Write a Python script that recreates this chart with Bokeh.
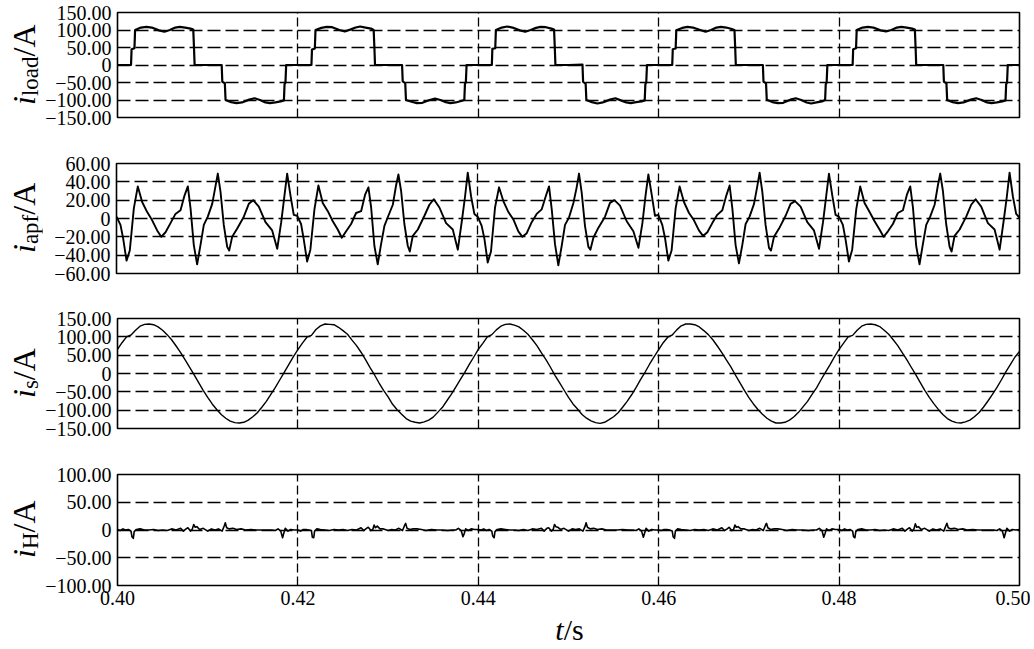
import numpy as np
from bokeh.plotting import figure
from bokeh.layouts import column, row
from bokeh.models import FixedTicker, CustomJSTickFormatter, Range1d, Div
from bokeh.embed import file_html
from bokeh.resources import INLINE

FONT = "Liberation Serif"

# ---------------- data ----------------
PERIOD_STARTS = [0.40, 0.42, 0.44, 0.46, 0.48]
T_END = 0.50
X_TICKS = [0.40, 0.42, 0.44, 0.46, 0.48, 0.50]

# load current: breakpoints inside each 20 ms period (ms) and values (A)
ILOAD_PHASE_MS = [0.0, 1.50, 1.56, 1.88, 1.95, 2.6, 3.2, 3.8, 4.6, 5.2, 5.8, 6.4, 6.9, 7.5, 8.1,
                  8.40, 8.48, 8.55, 10.0, 11.55, 11.62, 11.90, 11.98, 12.6, 13.2, 13.8, 14.6, 15.2,
                  15.8, 16.4, 16.9, 17.5, 18.1, 18.45, 18.52, 18.62, 18.70, 20.0]
ILOAD_P0 = [0, 0, 45, 48, 100, 107, 109, 107, 99, 95, 100, 107, 109, 107, 104, 101, 50, 0, 0, 0,
            -48, -52, -100, -106, -109, -107, -99, -95, -100, -107, -109, -107, -104, -101, -55, -50, 0, 0]
ILOAD_P1 = [0, 0, 44, 47, 100, 106, 109, 108, 100, 96, 101, 107, 110, 107, 104, 100, 50, 0, 0, 0,
            -47, -52, -100, -105, -109, -108, -100, -96, -100, -106, -109, -107, -103, -100, -54, -50, 0, 0]
ILOAD_P2 = [0, 0, 46, 48, 100, 107, 110, 107, 99, 95, 100, 106, 109, 108, 104, 101, 50, 0, 0, 1,
            -48, -53, -100, -106, -110, -107, -99, -95, -101, -107, -109, -106, -104, -101, -55, -50, 0, 0]
ILOAD_P3 = [0, 0, 45, 47, 99, 106, 109, 107, 100, 95, 100, 107, 109, 107, 103, 100, 50, 0, 0, 0,
            -48, -52, -99, -106, -109, -108, -99, -95, -100, -107, -110, -107, -104, -100, -55, -50, 0, 0]
ILOAD_P4 = [0, 0, 45, 48, 100, 107, 109, 107, 99, 96, 100, 107, 109, 107, 104, 101, 50, 0, 0, 0,
            -48, -52, -100, -106, -109, -107, -99, -95, -100, -107, -109, -107, -104, -101, -55, -50, 0, 0]
ILOAD_END = 0

# APF current
IAPF_PHASE_MS = [0.00, 0.44, 0.74, 1.11, 1.47, 1.92, 2.36, 2.84, 3.40, 3.95, 4.50, 4.95, 5.43, 5.98, 6.53,
                 7.09, 7.53, 7.90, 8.20, 8.56, 8.93, 9.30, 9.67, 10.11, 10.60, 10.96, 11.22, 11.52, 11.88,
                 12.26, 12.48, 12.81, 13.37, 14.10, 14.65, 15.14, 15.76, 16.50, 17.24, 17.80, 18.24, 18.60,
                 18.90, 19.27, 19.63]
IAPF_P0 = [2, -7, -22, -46, -35, 11, 35, 18, 7, -2, -13, -20, -15, -5, 5, 9, 25, 35, 11, -29, -50, -29, -7,
           2, 16, 35, 49, 29, -7, -31, -35, -20, -11, 2, 16, 20, 13, -4, -13, -33, -4, 25, 49, 25, 4]
IAPF_P1 = [3, -6, -23, -47, -34, 10, 36, 17, 8, -3, -12, -21, -14, -6, 6, 8, 26, 34, 12, -30, -50, -28, -8,
           3, 15, 36, 48, 30, -6, -30, -36, -19, -12, 3, 15, 21, 12, -5, -12, -34, -3, 24, 50, 24, 5]
IAPF_P2 = [2, -8, -22, -48, -36, 12, 34, 19, 7, -1, -14, -20, -16, -4, 5, 10, 24, 35, 10, -28, -51, -30, -7,
           1, 17, 34, 49, 28, -8, -31, -34, -21, -10, 2, 17, 20, 14, -3, -14, -32, -5, 26, 48, 26, 3]
IAPF_P3 = [4, -7, -21, -46, -35, 11, 35, 18, 6, -2, -13, -19, -15, -5, 4, 9, 25, 36, 11, -29, -49, -29, -6,
           2, 16, 35, 50, 29, -7, -32, -35, -20, -11, 3, 16, 19, 13, -4, -13, -33, -4, 25, 49, 25, 4]
IAPF_P4 = [2, -7, -23, -47, -34, 10, 35, 17, 7, -3, -12, -20, -14, -6, 6, 9, 26, 35, 12, -30, -50, -28, -7,
           2, 15, 36, 49, 30, -6, -31, -36, -19, -12, 2, 15, 21, 13, -5, -12, -34, -3, 24, 50, 24, 5]
IAPF_END = 1

# source current, sampled every 0.5 ms
IS_STEP_MS = 0.5
IS_P0 = [66, 84, 100, 105, 118, 129, 134, 135, 133, 127, 118, 106, 92, 75, 57, 37, 17, -4, -25, -46,
         -65, -83, -98, -112, -122, -130, -134, -135, -133, -127, -118, -107, -92, -76, -57, -38, -17, 4, 25, 46]
IS_P1 = [65, 83, 99, 104, 120, 130, 135, 134, 133, 126, 117, 107, 91, 76, 58, 38, 16, -4, -26, -46,
         -64, -84, -99, -111, -123, -130, -133, -135, -132, -127, -119, -106, -93, -75, -57, -37, -17, 3, 25, 45]
IS_P2 = [66, 82, 100, 106, 119, 129, 134, 135, 132, 127, 118, 107, 92, 76, 56, 38, 17, -5, -25, -45,
         -65, -83, -97, -112, -122, -129, -134, -136, -133, -126, -118, -107, -92, -76, -58, -38, -16, 4, 26, 46]
IS_P3 = [65, 84, 99, 105, 119, 130, 135, 135, 133, 127, 117, 106, 92, 75, 57, 37, 18, -4, -25, -46,
         -66, -83, -98, -111, -122, -130, -135, -135, -133, -127, -118, -106, -91, -76, -57, -39, -17, 4, 24, 46]
IS_P4 = [66, 83, 100, 104, 118, 129, 134, 135, 133, 128, 118, 107, 92, 76, 57, 38, 17, -3, -25, -46,
         -65, -82, -98, -112, -123, -130, -134, -135, -132, -127, -118, -107, -92, -75, -57, -38, -17, 5, 25, 45]
IS_END = 60

# harmonic (residual) current
IH_PHASE_MS = [0.0, 0.3, 0.6, 0.9, 1.2, 1.5, 1.6, 1.75, 1.85, 2.1, 2.5, 3.0, 3.5, 4.0, 4.5, 5.0, 5.5, 6.0,
               6.5, 7.0, 7.3, 7.6, 7.8, 8.1, 8.3, 8.45, 8.6, 8.8, 9.1, 9.5, 10.0, 10.4, 10.8, 11.2, 11.6,
               11.85, 11.95, 12.1, 12.4, 12.8, 13.2, 13.7, 14.2, 14.8, 15.4, 16.0, 16.6, 17.1, 17.5, 17.8,
               18.1, 18.3, 18.45, 18.6, 18.9, 19.2, 19.6]
IH_P0 = [1, -1, 2, 0, 1, -2, -12, -15, -3, 1, 2, 0, 0, 1, -1, 0, -1, 2, 0, 3, -2, 2, 4, -2, 2, 10, 5, 6, 1, 3,
         -2, 2, 0, 2, -2, 8, 13, 4, 2, 3, 1, 2, 0, 1, 0, 0, 0, 0, -1, 2, -2, -14, -5, 3, -2, 1, 0]
IH_P1 = [0, -2, 1, 1, 0, -1, -13, -14, -2, 2, 1, 0, -1, 1, 0, 1, -1, 1, 0, 4, -1, 3, 5, -1, 1, 9, 4, 7, 2, 2,
         -1, 1, 0, 3, -1, 9, 12, 3, 1, 2, 2, 1, -1, 1, 0, 0, -1, 0, 0, 3, -1, -12, -6, 2, -1, 2, 1]
IH_P2 = [1, 0, 2, -1, 1, -2, -11, -14, -3, 1, 2, 1, 0, 0, -1, 1, -1, 2, 1, 3, -2, 3, 4, -2, 1, 10, 6, 5, 1, 3,
         -2, 2, 1, 2, -2, 7, 13, 5, 2, 3, 1, 2, 0, 0, 0, 1, 0, 0, -1, 2, -2, -13, -5, 3, -2, 1, 0]
IH_P3 = [0, -1, 1, 1, 0, -2, -12, -15, -2, 2, 1, 0, -1, 1, 0, 1, -1, 2, 0, 4, -1, 2, 5, -1, 1, 9, 5, 6, 2, 2,
         -1, 1, 0, 3, -1, 9, 12, 4, 1, 2, 2, 1, -1, 1, 0, 0, -1, 0, 0, 3, -1, -13, -6, 2, -1, 2, 1]
IH_P4 = [1, -1, 2, 0, 1, -2, -12, -14, -3, 1, 2, 0, 0, 1, -1, 0, -1, 2, 0, 3, -2, 2, 4, -2, 2, 11, 5, 6, 1, 3,
         -2, 2, 0, 2, -2, 8, 12, 4, 2, 3, 1, 2, 0, 1, 0, 0, 0, 0, -1, 2, -2, -14, -5, 3, -2, 1, 0]
IH_END = 1

Y_TICKS_150 = [-150, -100, -50, 0, 50, 100, 150]
Y_TICKS_60 = [-60, -40, -20, 0, 20, 40, 60]
Y_TICKS_100 = [-100, -50, 0, 50, 100]

Y_LABEL_SUBS = ["load", "apf", "s", "H"]
X_LABEL = ("t", "/s")


def build(phase_ms, periods, end_val):
    ts, ys = [], []
    for start, vals in zip(PERIOD_STARTS, periods):
        ph = np.asarray(phase_ms, dtype=float)[: len(vals)]
        ts.extend(start + ph / 1000.0)
        ys.extend(vals)
    ts.append(T_END)
    ys.append(end_val)
    return np.array(ts), np.array(ys, dtype=float)


t_load, y_load = build(ILOAD_PHASE_MS, [ILOAD_P0, ILOAD_P1, ILOAD_P2, ILOAD_P3, ILOAD_P4], ILOAD_END)
t_apf, y_apf = build(IAPF_PHASE_MS, [IAPF_P0, IAPF_P1, IAPF_P2, IAPF_P3, IAPF_P4], IAPF_END)
is_phase = [k * IS_STEP_MS for k in range(len(IS_P0))]
t_s, y_s = build(is_phase, [IS_P0, IS_P1, IS_P2, IS_P3, IS_P4], IS_END)
t_h, y_h = build(IH_PHASE_MS, [IH_P0, IH_P1, IH_P2, IH_P3, IH_P4], IH_END)

# ---------------- layout ----------------
TOTAL_W = 1030
LABEL_W = 42            # column holding the rotated y-axis titles
FRAME_LEFT = 116
FRAME_RIGHT = 1019

Y_FMT = CustomJSTickFormatter(code="""
    if (Math.abs(tick) < 1e-9) { return "0"; }
    return tick.toFixed(2).replace("-", "\u2212");
""")
X_FMT = CustomJSTickFormatter(code="return tick.toFixed(2);")


def make_fig(top, frame_h, bottom, y_lo, y_hi, y_ticks, show_x):
    p = figure(width=TOTAL_W - LABEL_W, height=top + frame_h + bottom,
               x_range=Range1d(0.40, 0.50), y_range=Range1d(y_lo, y_hi),
               output_backend="svg", toolbar_location=None,
               min_border_left=FRAME_LEFT - LABEL_W, min_border_right=TOTAL_W - FRAME_RIGHT,
               min_border_top=top, min_border_bottom=bottom)
    p.background_fill_color = "white"
    p.border_fill_color = "white"
    p.outline_line_color = "black"
    p.outline_line_width = 1.6
    p.outline_line_alpha = 1.0

    xt = FixedTicker(ticks=X_TICKS)
    yt = FixedTicker(ticks=y_ticks)
    p.xaxis.ticker = xt
    p.yaxis.ticker = yt
    p.xgrid.ticker = xt
    p.ygrid.ticker = yt
    p.xgrid.grid_line_color = "black"
    p.xgrid.grid_line_width = 1.3
    p.xgrid.grid_line_dash = "9 4"
    p.ygrid.grid_line_color = "black"
    p.ygrid.grid_line_width = 1.3
    p.ygrid.grid_line_dash = "13 5"

    for ax in (p.xaxis, p.yaxis):
        ax.axis_line_color = None
        ax.major_tick_line_color = None
        ax.minor_tick_line_color = None
        ax.major_tick_out = 0
        ax.major_tick_in = 0
        ax.major_label_text_font = FONT
        ax.major_label_text_font_size = "20px"
        ax.major_label_text_color = "black"
    p.yaxis.major_label_standoff = 6
    p.xaxis.major_label_standoff = 5
    p.yaxis.formatter = Y_FMT
    if show_x:
        p.xaxis.formatter = X_FMT
    else:
        p.xaxis.visible = False
    return p


def ylabel_div(sub, top, frame_h, height):
    html = (
        f'<div style="position:relative;width:{LABEL_W}px;height:{height}px;">'
        f'<div style="position:absolute;left:4px;top:{top}px;width:{LABEL_W}px;height:{frame_h}px;'
        f'display:flex;align-items:center;justify-content:center;writing-mode:vertical-rl;'
        f'transform:rotate(180deg);font-family:\'{FONT}\';font-size:32px;line-height:1;'
        f'white-space:nowrap;color:black;">'
        f'<span><i>i</i><sub style="font-size:23px;">{sub}</sub>/A</span></div></div>'
    )
    return Div(text=html, width=LABEL_W, height=height, margin=0)


# (top border, frame height, bottom border) of the four panels
PANELS = [(12, 105, 23), (23, 110, 23), (22, 110, 23), (23, 111, 30)]
Y_SETUP = [(-150, 150, Y_TICKS_150), (-60, 60, Y_TICKS_60), (-150, 150, Y_TICKS_150), (-100, 100, Y_TICKS_100)]
SERIES = [(t_load, y_load, 2.2), (t_apf, y_apf, 1.9), (t_s, y_s, 1.4), (t_h, y_h, 1.6)]

rows = []
for k in range(4):
    top, fh, bot = PANELS[k]
    lo, hi, ticks = Y_SETUP[k]
    p = make_fig(top, fh, bot, lo, hi, ticks, show_x=(k == 3))
    tx, ty, lw = SERIES[k]
    p.line(tx, ty, line_color="black", line_width=lw, line_join="round")
    d = ylabel_div(Y_LABEL_SUBS[k], top, fh, top + fh + bot)
    rows.append(row(d, p, spacing=0))

xlabel_html = (
    f'<div style="position:relative;width:{TOTAL_W}px;height:30px;">'
    f'<div style="position:absolute;left:{FRAME_LEFT + 2}px;top:0px;width:{FRAME_RIGHT - FRAME_LEFT}px;'
    f'text-align:center;font-family:\'{FONT}\';font-size:30px;line-height:30px;color:black;'
    f'white-space:nowrap;"><i>{X_LABEL[0]}</i>{X_LABEL[1]}</div></div>'
)
xlabel = Div(text=xlabel_html, width=TOTAL_W, height=30, margin=0)

layout = column(*rows, xlabel, spacing=0)

open("out.html", "w").write(file_html(layout, INLINE))
